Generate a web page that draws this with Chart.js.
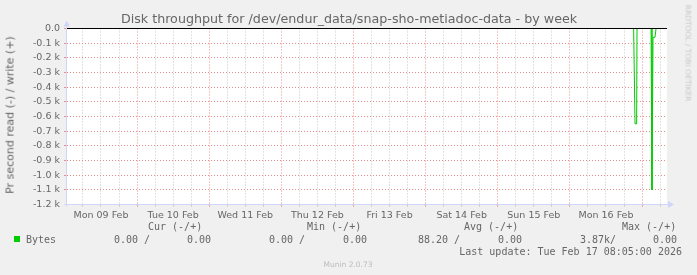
<!DOCTYPE html>
<html>
<head>
<meta charset="utf-8">
<script src="https://cdn.jsdelivr.net/npm/chart.js@4/dist/chart.umd.min.js"></script>
<style>
  html, body { margin: 0; padding: 0; background: #f0f0f0; }
  #wrap { position: relative; width: 697px; height: 275px; overflow: hidden; background: #f0f0f0; }
  #c { position: absolute; left: 0; top: 0; }
  .t { position: absolute; white-space: nowrap; color: #666; font-family: "DejaVu Sans", sans-serif; }
  .m { position: absolute; white-space: pre; color: #666; font-family: "DejaVu Sans Mono", monospace; font-size: 10px; line-height: 12px; }
</style>
</head>
<body>
<div id="wrap">
  <canvas id="c" width="697" height="275"></canvas>
</div>
<script>
// ---- data (hours since Mon 09 Feb 00:00, bytes per second; read = negative) ----
const hours = [0.7, 189.2, 189.67, 190.2, 190.33, 195.0, 195.3, 195.65, 196.3, 196.66, 200.3];
const bytes = [0, 0, -650, -650, 0, 0, -1100, -60, -60, 0, 0];
const dayLabels = ['Mon 09 Feb', 'Tue 10 Feb', 'Wed 11 Feb', 'Thu 12 Feb', 'Fri 13 Feb', 'Sat 14 Feb', 'Sun 15 Feb', 'Mon 16 Feb'];
const yTicks = [0, -100, -200, -300, -400, -500, -600, -700, -800, -900, -1000, -1100, -1200];
const statHeads = ['Cur (-/+)', 'Min (-/+)', 'Avg (-/+)', 'Max (-/+)'];
const statRead = ['0.00 /', '0.00 /', '88.20 /', '3.87k/'];
const statWrite = ['0.00', '0.00', '0.00', '0.00'];
const seriesName = 'Bytes';
const titleText = 'Disk throughput for /dev/endur_data/snap-sho-metiadoc-data - by week';
const yTitle = 'Pr second read (-) / write (+)';
const lastUpdate = 'Last update: Tue Feb 17 08:05:00 2026';
const footer = 'Munin 2.0.73';
const xMin = 0.7, xMax = 200.3;

const wrap = document.getElementById('wrap');
function addText(cls, txt, css) {
  const d = document.createElement('div');
  d.className = cls; d.textContent = txt;
  Object.assign(d.style, css);
  wrap.appendChild(d);
  return d;
}
addText('t', titleText, { left: '349px', top: '18px', fontSize: '12.7px', transform: 'translate(-50%,-50%)' });
addText('t', yTitle, { left: '10px', top: '115px', fontSize: '11px', transform: 'translate(-50%,-50%) rotate(-90deg)' });
addText('t', 'RRDTOOL / TOBI OETIKER', { left: '688px', top: '53px', fontSize: '7.5px', color: '#c8c8c8', transform: 'translate(-50%,-50%) rotate(90deg)' });
const headX = [148, 307, 464, 622];
statHeads.forEach((h, i) => addText('m', h, { left: headX[i] + 'px', top: '221px' }));
const sq = document.createElement('div');
Object.assign(sq.style, { position: 'absolute', left: '14px', top: '236px', width: '6px', height: '6px', background: '#00cc00' });
wrap.appendChild(sq);
addText('m', seriesName, { left: '26px', top: '234px' });
const readX = [114, 269, 418, 580];
const writeX = [187, 343, 498, 653];
statRead.forEach((s, i) => addText('m', s, { left: readX[i] + 'px', top: '234px' }));
statWrite.forEach((s, i) => addText('m', s, { left: writeX[i] + 'px', top: '234px' }));
addText('m', lastUpdate, { right: '15px', top: '246px' });
addText('t', footer, { left: '348px', top: '264px', fontSize: '7.5px', color: '#bbb', transform: 'translate(-50%,-50%)' });

const MGRID = 'rgb(232,140,140)';
const GRID = 'rgb(196,196,196)';
const AXIS = '#cfd6f8';

const canvasBg = {
  id: 'canvasBg',
  beforeDraw(chart) {
    const { ctx, chartArea: a } = chart;
    ctx.save();
    ctx.fillStyle = '#ffffff';
    ctx.fillRect(a.left, Math.floor(a.top), a.right - a.left, Math.ceil(a.bottom) - Math.floor(a.top));
    ctx.restore();
  }
};

const overlay = {
  id: 'overlay',
  afterDatasetsDraw(chart) {
    const { ctx, chartArea: a } = chart;
    const y0 = chart.scales.y.getPixelForValue(0);
    ctx.save();
    ctx.setLineDash([]);
    // zero line
    ctx.strokeStyle = '#000';
    ctx.lineWidth = 1;
    ctx.beginPath();
    ctx.moveTo(a.left, Math.floor(y0) + 0.5);
    ctx.lineTo(a.right, Math.floor(y0) + 0.5);
    ctx.stroke();
    // axes
    ctx.strokeStyle = AXIS;
    ctx.fillStyle = AXIS;
    const ax = Math.floor(a.left) - 0.5;
    const ay = Math.floor(a.bottom) + 0.5;
    ctx.beginPath();
    ctx.moveTo(ax, ay + 2);
    ctx.lineTo(ax, a.top - 3);
    ctx.moveTo(a.left - 3, ay);
    ctx.lineTo(a.right + 2, ay);
    ctx.stroke();
    ctx.beginPath();
    ctx.moveTo(ax - 3, a.top - 2);
    ctx.lineTo(ax + 3.5, a.top - 2);
    ctx.lineTo(ax + 0.25, a.top - 8);
    ctx.closePath();
    ctx.fill();
    ctx.beginPath();
    ctx.moveTo(a.right + 1, ay - 3.5);
    ctx.lineTo(a.right + 1, ay + 3.5);
    ctx.lineTo(a.right + 7, ay);
    ctx.closePath();
    ctx.fill();
    ctx.restore();
  }
};

new Chart(document.getElementById('c'), {
  type: 'line',
  data: {
    datasets: [{
      label: seriesName,
      data: hours.map((h, i) => ({ x: h, y: bytes[i] })),
      borderColor: '#00cc00',
      borderWidth: 1,
      pointRadius: 0,
      tension: 0,
      fill: false
    }]
  },
  options: {
    responsive: false,
    animation: false,
    devicePixelRatio: 1,
    layout: { padding: { left: 0, top: 28.5, right: 30, bottom: 50.5 } },
    plugins: { legend: { display: false }, tooltip: { enabled: false }, title: { display: false } },
    scales: {
      x: {
        type: 'linear',
        min: xMin, max: xMax,
        afterFit(s) { s.height = 20; },
        afterBuildTicks(s) {
          const t = [];
          for (let h = 6; h < xMax; h += 6) t.push({ value: h });
          s.ticks = t;
        },
        border: { display: false, dash: [1, 2] },
        grid: {
          color: (c) => (c.tick && c.tick.value % 24 === 0) ? MGRID : GRID,
          tickBorderDash: [],
          tickLength: 2,
          lineWidth: 1
        },
        ticks: {
          autoSkip: false,
          maxRotation: 0,
          minRotation: 0,
          padding: 3,
          color: '#666',
          font: { family: 'DejaVu Sans', size: 9.5 },
          callback: (v) => (v % 24 === 12) ? dayLabels[(v - 12) / 24] : ''
        }
      },
      y: {
        min: -1200, max: 0,
        afterFit(s) { s.width = 67; },
        afterBuildTicks(s) { s.ticks = yTicks.map(v => ({ value: v })); },
        border: { display: false, dash: [1, 2] },
        grid: {
          color: MGRID,
          tickBorderDash: [],
          tickLength: 3,
          lineWidth: 1
        },
        ticks: {
          padding: 4,
          color: '#666',
          font: { family: 'DejaVu Sans', size: 9.5 },
          callback: (v) => v === 0 ? '0.0' : (v / 1000).toFixed(1) + ' k'
        }
      }
    }
  },
  plugins: [canvasBg, overlay]
});
</script>
</body>
</html>
